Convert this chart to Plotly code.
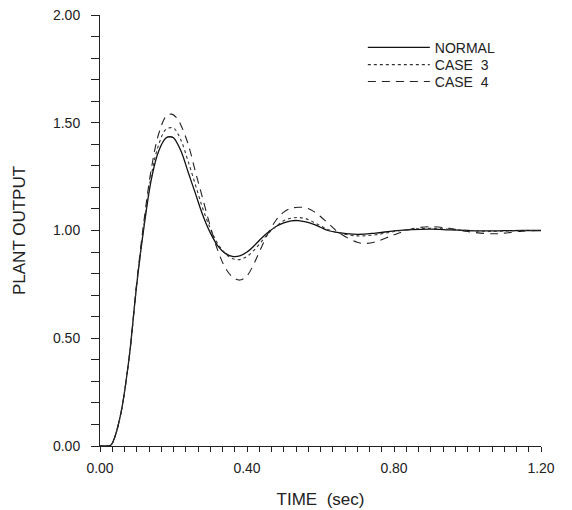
import plotly.graph_objects as go

# odczyty z wykresu
t_normal = [0, 0.02, 0.03, 0.04, 0.05, 0.06, 0.08, 0.10, 0.12, 0.14, 0.16, 0.18, 0.19, 0.20, 0.22,
            0.24, 0.26, 0.28, 0.30, 0.32, 0.34, 0.36, 0.38, 0.40, 0.42, 0.44, 0.46, 0.48, 0.50,
            0.52, 0.54, 0.56, 0.58, 0.60, 0.62, 0.65, 0.70, 0.75, 0.80, 0.85, 0.90, 0.95, 1.00,
            1.05, 1.10, 1.15, 1.20]
y_normal = [0, 0, 0.005, 0.04, 0.10, 0.18, 0.42, 0.75, 1.02, 1.24, 1.37, 1.43, 1.435, 1.43, 1.37,
            1.27, 1.17, 1.07, 0.99, 0.93, 0.895, 0.88, 0.882, 0.90, 0.93, 0.965, 0.995, 1.02, 1.035,
            1.045, 1.046, 1.04, 1.03, 1.015, 1.0, 0.99, 0.982, 0.988, 0.998, 1.004, 1.006, 1.003, 1.0,
            0.998, 0.999, 1.0, 1.0]

t_case3 = [0, 0.02, 0.03, 0.04, 0.05, 0.06, 0.08, 0.10, 0.12, 0.14, 0.16, 0.18, 0.20, 0.22, 0.24,
           0.26, 0.28, 0.30, 0.32, 0.34, 0.36, 0.38, 0.40, 0.42, 0.44, 0.46, 0.48, 0.50, 0.52,
           0.54, 0.56, 0.58, 0.60, 0.62, 0.65, 0.70, 0.75, 0.80, 0.85, 0.90, 0.95, 1.00, 1.05,
           1.10, 1.15, 1.20]
y_case3 = [0, 0, 0.005, 0.04, 0.10, 0.18, 0.42, 0.75, 1.03, 1.26, 1.40, 1.47, 1.475, 1.42, 1.32,
           1.21, 1.10, 1.01, 0.94, 0.895, 0.87, 0.865, 0.88, 0.91, 0.95, 0.99, 1.02, 1.045, 1.057,
           1.06, 1.055, 1.04, 1.022, 1.005, 0.988, 0.975, 0.98, 0.995, 1.006, 1.01, 1.006, 1.0, 0.996,
           0.997, 1.0, 1.0]

t_case4 = [0, 0.02, 0.03, 0.04, 0.05, 0.06, 0.08, 0.10, 0.12, 0.14, 0.16, 0.18, 0.195, 0.21, 0.22,
           0.24, 0.26, 0.28, 0.30, 0.32, 0.34, 0.36, 0.38, 0.40, 0.42, 0.44, 0.46, 0.48, 0.50,
           0.52, 0.54, 0.56, 0.58, 0.60, 0.62, 0.65, 0.70, 0.72, 0.75, 0.80, 0.85, 0.90, 0.95,
           1.00, 1.05, 1.08, 1.10, 1.15, 1.20]
y_case4 = [0, 0, 0.005, 0.04, 0.10, 0.18, 0.42, 0.76, 1.05, 1.29, 1.45, 1.53, 1.54, 1.52, 1.49,
           1.40, 1.27, 1.145, 1.02, 0.91, 0.83, 0.785, 0.77, 0.79, 0.85, 0.925, 0.995, 1.05, 1.085,
           1.103, 1.108, 1.105, 1.09, 1.065, 1.035, 0.99, 0.945, 0.94, 0.948, 0.98, 1.008, 1.018, 1.01,
           0.995, 0.986, 0.985, 0.988, 0.997, 1.0]

FONT = "Liberation Sans"
INK = "#222222"

fig = go.Figure()
fig.add_trace(go.Scatter(x=t_normal, y=y_normal, mode="lines", name="NORMAL", legend="legend",
                         line=dict(color="#111111", width=1.3, shape="spline")))
fig.add_trace(go.Scatter(x=t_case3, y=y_case3, mode="lines", name="CASE  3", legend="legend2",
                         line=dict(color="#333333", width=1.1, dash="dot", shape="spline")))
fig.add_trace(go.Scatter(x=t_case4, y=y_case4, mode="lines", name="CASE  4", legend="legend3",
                         line=dict(color="#222222", width=1.1, dash="8px,6px", shape="spline")))

# jedna legenda na wpis, zeby ustawic odstepy jak w oryginale
leg = dict(xanchor="left", yanchor="top", bgcolor="rgba(0,0,0,0)", x=0.596, itemwidth=62,
           font=dict(family=FONT, size=14, color=INK))

# strona ma 8px marginesu body, stad przesuniete marginesy
fig.update_layout(
    width=572, height=510,
    margin=dict(l=92, r=39, t=7, b=72),
    plot_bgcolor="white", paper_bgcolor="white",
    font=dict(family=FONT, size=14, color=INK),
    showlegend=True,
    legend=dict(leg, y=0.961),
    legend2=dict(leg, y=0.921),
    legend3=dict(leg, y=0.882),
)

fig.update_xaxes(
    range=[0, 1.2], dtick=0.4, tick0=0, tickformat=".2f", automargin=False,
    showline=True, linecolor=INK, linewidth=1, showgrid=False, zeroline=False,
    ticks="outside", ticklen=5, tickcolor=INK, ticklabelstandoff=4, ticklabeloverflow="allow",
    minor=dict(dtick=0.4 / 12, ticks="outside", ticklen=5, tickcolor=INK, showgrid=False),
    title=dict(text="TIME  (sec)", standoff=18),
)
fig.update_yaxes(
    range=[0, 2], dtick=0.5, tick0=0, tickformat=".2f", automargin=False,
    showline=True, linecolor=INK, linewidth=1, showgrid=False, zeroline=False,
    ticks="outside", ticklen=8, tickcolor=INK, ticklabelstandoff=8, ticklabeloverflow="allow",
    minor=dict(dtick=0.1, ticks="outside", ticklen=8, tickcolor=INK, showgrid=False),
    title=dict(text="PLANT OUTPUT", standoff=23),
)

fig.write_html("out.html")
